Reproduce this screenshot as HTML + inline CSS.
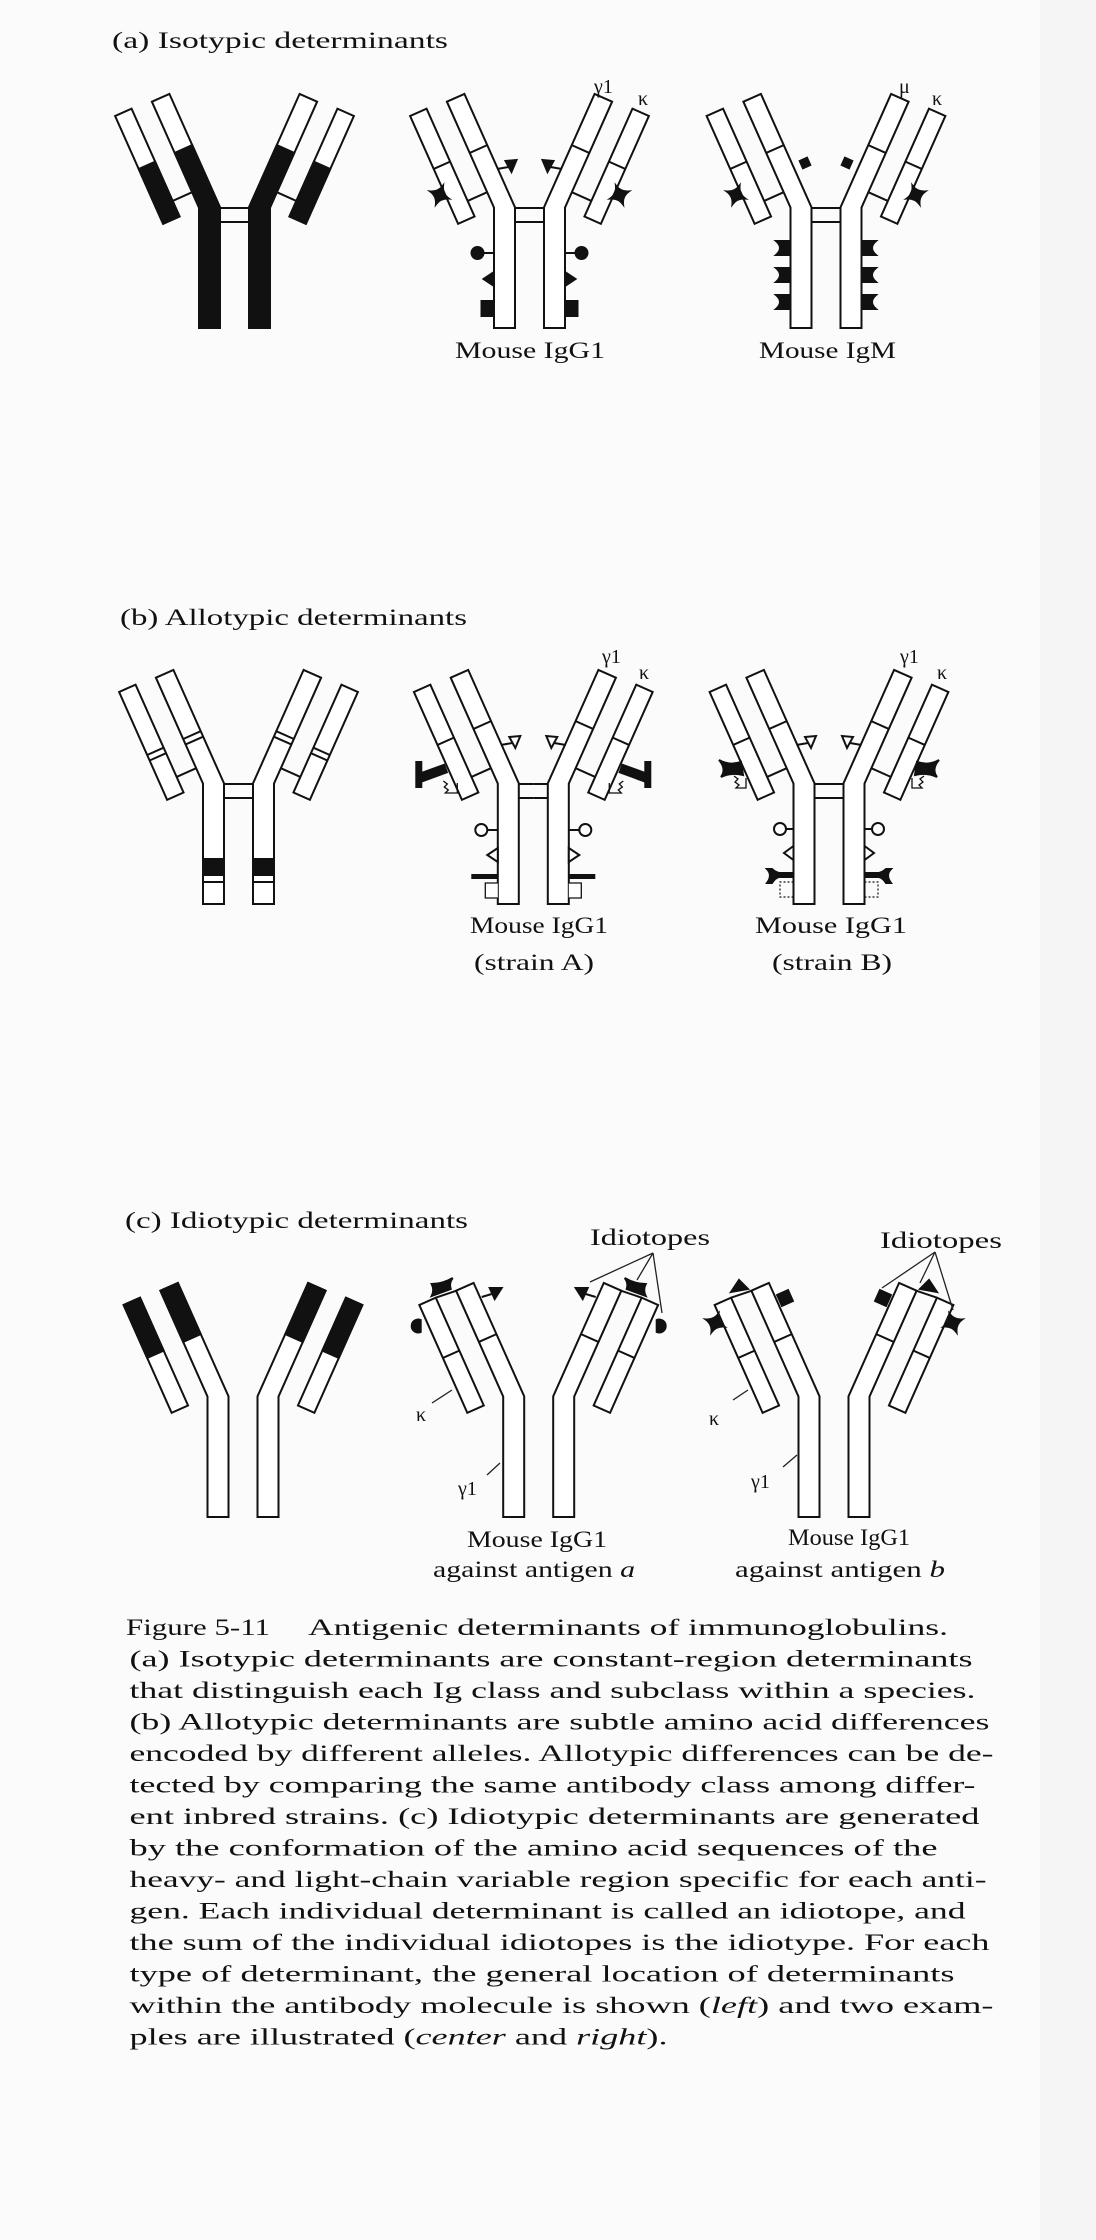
<!DOCTYPE html>
<html><head><meta charset="utf-8"><style>
html,body{margin:0;padding:0;background:#fbfbfb;}
svg{display:block;}
text{font-family:"Liberation Serif",serif;fill:#111;}
</style></head><body>
<svg width="1096" height="2240" viewBox="0 0 1096 2240" xmlns="http://www.w3.org/2000/svg">
<rect x="0" y="0" width="1096" height="2240" fill="#fbfbfb"/>
<rect x="1040" y="0" width="56" height="2240" fill="#f5f5f5"/>
<defs>
<path id="star" d="M-7,-7 Q0,-3 7,-7 Q3,0 7,7 Q0,3 -7,7 Q-3,0 -7,-7Z"/>
<g id="heavy"><polygon points="-82.6,101.7 -65.1,93.9 -14.5,207.4 -14.5,328 -35.5,328 -35.5,207.6"/></g>
<g id="hinge"><line x1="-14.5" y1="208" x2="0" y2="208"/><line x1="-14.5" y1="222" x2="0" y2="222"/></g>
<g id="base">
  <use href="#heavy"/>
  <g transform="translate(-25,207.5) rotate(-24)">
    <rect x="-49" y="-122" width="18" height="118"/>
    <line x1="-49" y1="-64" x2="-31" y2="-64"/>
    <line x1="-9.6" y1="-64" x2="9.6" y2="-64"/>
    <line x1="-31" y1="-21" x2="-9.6" y2="-21"/>
  </g>
  <use href="#hinge"/>
</g>
<g id="hA0">
  <use href="#heavy"/>
  <polygon points="-59.8,152.9 -42.3,145.1 -14.5,207.4 -14.5,328 -35.5,328 -35.5,207.6" fill="#111"/>
  <g transform="translate(-25,207.5) rotate(-24)">
    <rect x="-49" y="-122" width="18" height="118"/>
    <rect x="-49" y="-64" width="18" height="60" fill="#111"/>
    <line x1="-31" y1="-21" x2="-9.6" y2="-21"/>
  </g>
  <use href="#hinge"/>
</g>
<g id="hA1">
  <use href="#base"/>
  <line x1="-32.5" y1="169" x2="-21" y2="167"/>
  <polygon points="-24,161 -13,160 -18,172" fill="#111"/>
  <use href="#star" transform="translate(-90,195) rotate(-24)" fill="#111"/>
  <line x1="-46" y1="253" x2="-35.5" y2="253"/>
  <circle cx="-52" cy="253" r="6" fill="#111"/>
  <polygon points="-35.5,272 -35.5,286 -46,279" fill="#111"/>
  <rect x="-48" y="301" width="12.5" height="15" fill="#111"/>
</g>
<g id="hA2">
  <use href="#base"/>
  <rect x="-25" y="159" width="8" height="8" fill="#111" transform="rotate(-24,-21,163)"/>
  <use href="#star" transform="translate(-90,195) rotate(-24)" fill="#111"/>
  <path d="M-35.5,241 L-50,241 Q-42,248 -50,255 L-35.5,255Z" fill="#111"/>
  <path d="M-35.5,268 L-50,268 Q-42,275 -50,282 L-35.5,282Z" fill="#111"/>
  <path d="M-35.5,295 L-50,295 Q-42,302 -50,309 L-35.5,309Z" fill="#111"/>
</g>
<g id="hB0">
  <use href="#heavy"/>
  <g transform="translate(-25,207.5) rotate(-24)">
    <rect x="-49" y="-122" width="18" height="118"/>
    <line x1="-49" y1="-53" x2="-31" y2="-53"/><line x1="-49" y1="-47" x2="-31" y2="-47"/>
    <line x1="-9.6" y1="-53" x2="9.6" y2="-53"/><line x1="-9.6" y1="-47" x2="9.6" y2="-47"/>
    <line x1="-31" y1="-21" x2="-9.6" y2="-21"/>
  </g>
  <use href="#hinge"/>
  <rect x="-35.5" y="283" width="21" height="16" fill="#111"/>
  <line x1="-35.5" y1="306" x2="-14.5" y2="306"/>
</g>
<g id="hB1">
  <use href="#base"/>
  <line x1="-32.5" y1="169" x2="-21" y2="167"/>
  <polygon points="-24,161 -13,160 -18,172" fill="#fff"/>
  <rect x="-117" y="186" width="5" height="25" fill="#111"/>
  <rect x="-114" y="193" width="27" height="8" fill="#111" transform="rotate(-20,-100,197)"/>
  <path d="M-90,205 l4,3 -3,3 4,3 -3,3 h12 v-10" fill="none" stroke-width="1.3"/>
  <line x1="-46" y1="254" x2="-35.5" y2="254"/>
  <circle cx="-52" cy="254" r="6" fill="#fff"/>
  <polygon points="-35.5,272 -35.5,286 -46,279" fill="#fff"/>
  <rect x="-62" y="298" width="27" height="5" fill="#111" stroke="none"/>
  <polyline points="-35.5,307 -48,307 -48,322 -35.5,322" fill="#fff" stroke-width="1.3"/>
</g>
<g id="hB2">
  <use href="#base"/>
  <line x1="-32.5" y1="169" x2="-21" y2="167"/>
  <polygon points="-24,161 -13,160 -18,172" fill="#fff"/>
  <path d="M-110,184 Q-100,190 -88,186 L-86,199 Q-98,196 -108,201 Q-102,193 -110,184Z" fill="#111"/>
  <path d="M-95,200 l4,3 -3,3 4,3 -3,3 h10 v-10" fill="none" stroke-width="1.3"/>
  <line x1="-43" y1="253" x2="-35.5" y2="253"/>
  <circle cx="-49" cy="253" r="6" fill="#fff"/>
  <polygon points="-35.5,270 -35.5,284 -45,277" fill="#fff"/>
  <path d="M-62,293 Q-56,299 -62,307 L-57,307 Q-54,302 -50,301 L-35.5,301 L-35.5,297 L-50,297 Q-54,296 -57,293Z" fill="#111"/>
  <polyline points="-35.5,306 -49,306 -49,321 -35.5,321" fill="none" stroke-width="1.2" stroke-dasharray="2,2"/>
</g>
<g id="cbase">
  <use href="#heavy"/>
  <g transform="translate(-25,207.5) rotate(-24)">
    <rect x="-49" y="-122" width="18" height="118"/>
    <line x1="-49" y1="-64" x2="-31" y2="-64"/>
    <line x1="-9.6" y1="-64" x2="9.6" y2="-64"/>
    <line x1="-31" y1="-122" x2="-9.6" y2="-120"/>
  </g>
</g>
<g id="hC0">
  <use href="#heavy"/>
  <polygon points="-82.6,101.7 -65.1,93.9 -42.3,145.1 -59.8,152.9" fill="#111"/>
  <g transform="translate(-25,207.5) rotate(-24)">
    <rect x="-49" y="-122" width="18" height="118"/>
    <rect x="-49" y="-122" width="18" height="58" fill="#111"/>
  </g>
</g>
<g id="hC1">
  <use href="#cbase"/>
  <path d="M-107,95 Q-104,101 -107,107 L-88,100 Q-90,94 -86,89 Q-96,95 -107,95Z" fill="#111"/>
  <path d="M-118,131 A6.5,6.5 0 1 0 -118,143 Z" fill="#111"/>
  <line x1="-57" y1="108" x2="-47" y2="105"/>
  <polygon points="-49,99 -37,99 -44,110" fill="#111"/>
</g>
<g id="hC2">
  <use href="#cbase"/>
  <polygon points="-103,103 -95,91 -86,100" fill="#111"/>
  <rect x="-55" y="103" width="12" height="12" fill="#111" transform="rotate(-24,-49,109)"/>
  <use href="#star" transform="translate(-119,134) rotate(-24)" fill="#111"/>
</g>
</defs>

<g fill="#fff" stroke="#111" stroke-width="2">
  <g transform="translate(234.5,0)"><use href="#hA0"/><use href="#hA0" transform="scale(-1,1)"/></g>
  <g transform="translate(529.5,0)"><use href="#hA1"/><use href="#hA1" transform="scale(-1,1)"/></g>
  <g transform="translate(826,0)"><use href="#hA2"/><use href="#hA2" transform="scale(-1,1)"/></g>
  <g transform="translate(238.5,576)"><use href="#hB0"/><use href="#hB0" transform="scale(-1,1)"/></g>
  <g transform="translate(533.3,576)"><use href="#hB1"/><use href="#hB1" transform="scale(-1,1)"/></g>
  <g transform="translate(829,576)"><use href="#hB2"/><use href="#hB2" transform="scale(-1,1)"/></g>
  <g transform="translate(243,1189)"><use href="#hC0"/><use href="#hC0" transform="scale(-1,1)"/></g>
  <g transform="translate(538.7,1189)"><use href="#hC1"/><use href="#hC1" transform="scale(-1,1)"/></g>
  <g transform="translate(834,1189)"><use href="#hC2"/><use href="#hC2" transform="scale(-1,1)"/></g>
</g>

<g stroke="#222" stroke-width="1.3" fill="none">
  <line x1="653" y1="1253" x2="590" y2="1282"/>
  <line x1="653" y1="1253" x2="637" y2="1280"/>
  <line x1="653" y1="1253" x2="662" y2="1313"/>
  <line x1="935" y1="1252" x2="882" y2="1288"/>
  <line x1="935" y1="1252" x2="920" y2="1283"/>
  <line x1="935" y1="1252" x2="953" y2="1310"/>
  <line x1="432" y1="1403" x2="452" y2="1390"/>
  <line x1="487" y1="1475" x2="500" y2="1463"/>
  <line x1="733" y1="1400" x2="748" y2="1390"/>
  <line x1="783" y1="1467" x2="797" y2="1455"/>
</g>

<g font-size="23">
<text x="112" y="48" textLength="336" lengthAdjust="spacingAndGlyphs">(a) Isotypic determinants</text>
<text x="120" y="625" textLength="347" lengthAdjust="spacingAndGlyphs">(b) Allotypic determinants</text>
<text x="125" y="1228" textLength="343" lengthAdjust="spacingAndGlyphs">(c) Idiotypic determinants</text>
</g>

<g font-size="20">
<text x="594" y="93">γ1</text><text x="638" y="105">κ</text>
<text x="899" y="93">μ</text><text x="932" y="105">κ</text>
<text x="602" y="663">γ1</text><text x="639" y="679">κ</text>
<text x="900" y="663">γ1</text><text x="937" y="679">κ</text>
<text x="416" y="1421">κ</text><text x="458" y="1495">γ1</text>
<text x="709" y="1425">κ</text><text x="751" y="1488">γ1</text>
</g>

<g font-size="23">
<text x="455" y="358" textLength="150" lengthAdjust="spacingAndGlyphs">Mouse IgG1</text>
<text x="759" y="358" textLength="137" lengthAdjust="spacingAndGlyphs">Mouse IgM</text>
<text x="470" y="933" textLength="138" lengthAdjust="spacingAndGlyphs">Mouse IgG1</text>
<text x="474" y="970" textLength="120" lengthAdjust="spacingAndGlyphs">(strain A)</text>
<text x="755" y="933" textLength="152" lengthAdjust="spacingAndGlyphs">Mouse IgG1</text>
<text x="772" y="970" textLength="120" lengthAdjust="spacingAndGlyphs">(strain B)</text>
<text x="590" y="1245" textLength="120" lengthAdjust="spacingAndGlyphs">Idiotopes</text>
<text x="880" y="1248" textLength="122" lengthAdjust="spacingAndGlyphs">Idiotopes</text>
<text x="467" y="1547" textLength="140" lengthAdjust="spacingAndGlyphs">Mouse IgG1</text>
<text x="433" y="1577" textLength="202" lengthAdjust="spacingAndGlyphs">against antigen <tspan font-style="italic">a</tspan></text>
<text x="788" y="1545" textLength="122" lengthAdjust="spacingAndGlyphs">Mouse IgG1</text>
<text x="735" y="1577" textLength="210" lengthAdjust="spacingAndGlyphs">against antigen <tspan font-style="italic">b</tspan></text>
</g>

<g font-size="23">
<text x="126" y="1635" textLength="144" lengthAdjust="spacingAndGlyphs">Figure 5-11</text>
<text x="308" y="1635" textLength="640" lengthAdjust="spacingAndGlyphs">Antigenic determinants of immunoglobulins.</text>
<text x="129.5" y="1666.5" textLength="843" lengthAdjust="spacingAndGlyphs">(a) Isotypic determinants are constant-region determinants</text>
<text x="129.5" y="1698" textLength="846" lengthAdjust="spacingAndGlyphs">that distinguish each Ig class and subclass within a species.</text>
<text x="129.5" y="1729.5" textLength="860" lengthAdjust="spacingAndGlyphs">(b) Allotypic determinants are subtle amino acid differences</text>
<text x="129.5" y="1761" textLength="864" lengthAdjust="spacingAndGlyphs">encoded by different alleles. Allotypic differences can be de-</text>
<text x="129.5" y="1792.5" textLength="846" lengthAdjust="spacingAndGlyphs">tected by comparing the same antibody class among differ-</text>
<text x="129.5" y="1824" textLength="850" lengthAdjust="spacingAndGlyphs">ent inbred strains. (c) Idiotypic determinants are generated</text>
<text x="129.5" y="1855.5" textLength="808" lengthAdjust="spacingAndGlyphs">by the conformation of the amino acid sequences of the</text>
<text x="129.5" y="1887" textLength="857" lengthAdjust="spacingAndGlyphs">heavy- and light-chain variable region specific for each anti-</text>
<text x="129.5" y="1918.5" textLength="836" lengthAdjust="spacingAndGlyphs">gen. Each individual determinant is called an idiotope, and</text>
<text x="129.5" y="1950" textLength="860" lengthAdjust="spacingAndGlyphs">the sum of the individual idiotopes is the idiotype. For each</text>
<text x="129.5" y="1981.5" textLength="825" lengthAdjust="spacingAndGlyphs">type of determinant, the general location of determinants</text>
<text x="129.5" y="2013" textLength="864" lengthAdjust="spacingAndGlyphs">within the antibody molecule is shown (<tspan font-style="italic">left</tspan>) and two exam-</text>
<text x="129.5" y="2044.5" textLength="538" lengthAdjust="spacingAndGlyphs">ples are illustrated (<tspan font-style="italic">center</tspan> and <tspan font-style="italic">right</tspan>).</text>
</g>
</svg>
</body></html>
